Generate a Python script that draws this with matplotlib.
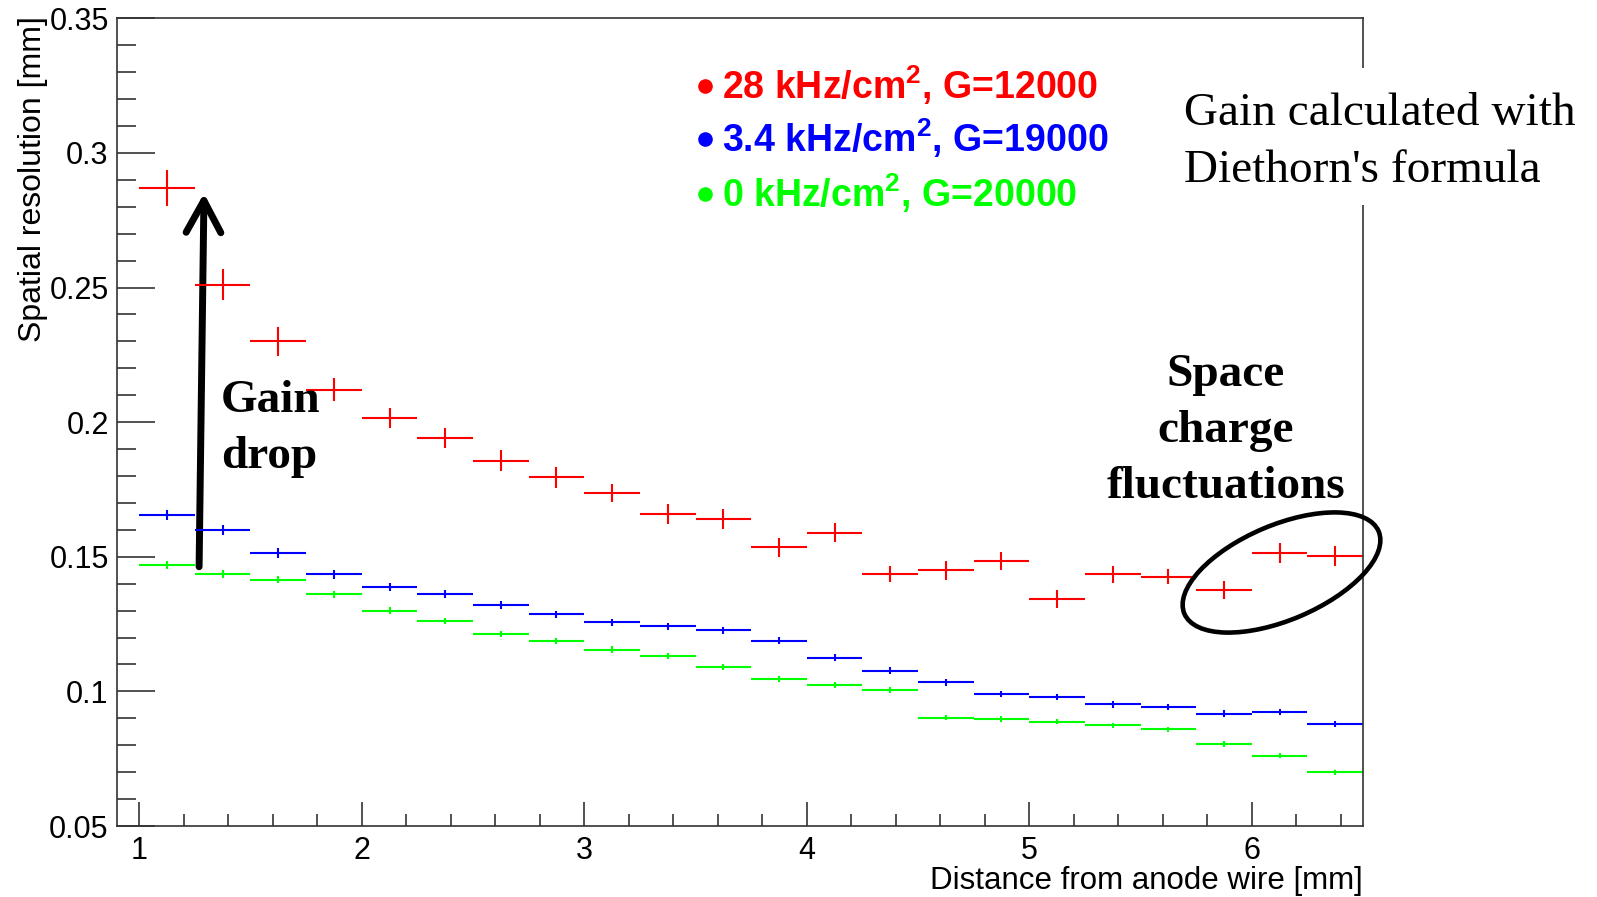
import numpy as np
import matplotlib.pyplot as plt
from matplotlib.patches import Ellipse, Rectangle, FancyArrowPatch
from matplotlib.ticker import MultipleLocator, FuncFormatter

plt.rcParams['font.family'] = ['Liberation Sans', 'DejaVu Sans']
plt.rcParams['mathtext.fontset'] = 'custom'
plt.rcParams['mathtext.rm'] = 'Liberation Sans'
plt.rcParams['mathtext.bf'] = 'Liberation Sans:bold'

# distance bins [mm]
bin_start = 1.0
bin_width = 0.25
n_bins = 22

# spatial resolution per bin [mm]
res_28khz = [0.287, 0.251, 0.230, 0.212, 0.2015, 0.194, 0.1857, 0.1795, 0.1737, 0.1659, 0.164,
             0.1535, 0.159, 0.1436, 0.145, 0.1484, 0.1343, 0.1435, 0.1426, 0.1377, 0.1514, 0.1503]
err_28khz = [0.0067, 0.0058, 0.0054, 0.0043, 0.0038, 0.0037, 0.0039, 0.0039, 0.0035, 0.0037, 0.0037,
             0.0035, 0.0035, 0.0030, 0.0035, 0.0034, 0.0032, 0.0032, 0.0028, 0.0033, 0.0036, 0.0038]

res_3khz = [0.1655, 0.160, 0.1514, 0.1435, 0.1387, 0.1363, 0.132, 0.1286, 0.1256, 0.1241, 0.1227,
            0.1188, 0.1125, 0.1077, 0.1033, 0.099, 0.098, 0.0952, 0.0942, 0.0917, 0.0923, 0.0879]
err_3khz = [0.0020, 0.0018, 0.0017, 0.0016, 0.0016, 0.0015, 0.0015, 0.0014, 0.0014, 0.0014, 0.0013,
            0.0013, 0.0013, 0.0013, 0.0012, 0.0012, 0.0012, 0.0012, 0.0012, 0.0012, 0.0012, 0.0012]

res_0khz = [0.1468, 0.1435, 0.1415, 0.1361, 0.1299, 0.1261, 0.1213, 0.1188, 0.1155, 0.113, 0.109,
            0.1047, 0.1023, 0.1005, 0.0902, 0.0897, 0.0887, 0.0874, 0.0859, 0.0805, 0.0761, 0.0699]
err_0khz = [0.0015, 0.0014, 0.0014, 0.0013, 0.0013, 0.0012, 0.0012, 0.0012, 0.0012, 0.0011, 0.0011,
            0.0011, 0.0011, 0.0011, 0.0010, 0.0010, 0.0010, 0.0010, 0.0010, 0.0010, 0.0010, 0.0010]

labels = [r'28 kHz/cm$^{\mathbf{2}}$, G=12000',
          r'3.4 kHz/cm$^{\mathbf{2}}$, G=19000',
          r'0 kHz/cm$^{\mathbf{2}}$, G=20000']
colors = ['#ff0000', '#0000ff', '#00ff00']

centres = bin_start + bin_width * (np.arange(n_bins) + 0.5)

W, H = 1597, 897
fig = plt.figure(figsize=(W / 100, H / 100), dpi=100)
ax = fig.add_axes([117 / W, 71 / H, 1246 / W, 807.7 / H])

for vals, errs, col in zip([res_28khz, res_3khz, res_0khz],
                           [err_28khz, err_3khz, err_0khz], colors):
    ax.errorbar(centres, vals, xerr=bin_width / 2, yerr=errs, fmt='none',
                ecolor=col, elinewidth=1.5, capsize=0)

ax.set_xlim(0.9, 6.5)
ax.set_ylim(0.05, 0.35)
ax.xaxis.set_major_locator(MultipleLocator(1))
ax.xaxis.set_minor_locator(MultipleLocator(0.2))
ax.yaxis.set_major_locator(MultipleLocator(0.05))
ax.yaxis.set_minor_locator(MultipleLocator(0.01))
ax.yaxis.set_major_formatter(FuncFormatter(lambda v, p: f'{v:g}'))

ax.tick_params(which='both', direction='in', top=False, right=False, width=1.1,
               labelsize=22, color='#222222')
ax.tick_params(axis='y', which='major', length=27.5, pad=6)
ax.tick_params(axis='y', which='minor', length=13.7)
ax.tick_params(axis='x', which='major', length=17.5, pad=7.5)
ax.tick_params(axis='x', which='minor', length=8.8)
for sp in ax.spines.values():
    sp.set_linewidth(1.2)
    sp.set_color('#333333')

fig.text(1363 / W, 1 - 889 / H, 'Distance from anode wire [mm]', fontsize=22.5,
         ha='right', va='baseline')
fig.text(41.5 / W, 1 - 16 / H, 'Spatial resolution [mm]', fontsize=23, rotation=90,
         rotation_mode='anchor', ha='right', va='baseline')

# legend rows: bullet + coloured bold label
legend_base = [0.3199, 0.3004, 0.2800]
for yb, lab, col in zip(legend_base, labels, colors):
    ax.plot([3.541], [yb + 0.0049], 'o', color=col, ms=9.5, clip_on=False)
    ax.text(3.617, yb, lab, color=col, fontsize=27, fontweight='bold',
            ha='left', va='baseline')

serif = ['Liberation Serif', 'DejaVu Serif']

# gain drop arrow
arrow = FancyArrowPatch((1.269, 0.1463), (1.291, 0.2850),
                        arrowstyle='->,head_length=23,head_width=12.5', mutation_scale=1,
                        lw=5, color='black', shrinkA=0, shrinkB=0,
                        capstyle='round', joinstyle='round')
ax.add_patch(arrow)
ax.text(1.366, 0.2039, 'Gain', family=serif, fontsize=34, fontweight='bold', va='baseline')
ax.text(1.366, 0.1828, 'drop', family=serif, fontsize=34, fontweight='bold', va='baseline')

for txt, yb in zip(['Space', 'charge', 'fluctuations'], [0.2135, 0.1927, 0.1717]):
    ax.text(5.884, yb, txt, family=serif, fontsize=34, fontweight='bold',
            ha='center', va='baseline')

ring = Ellipse((12.815, (H - 572.5) / 100), 2.11, 0.95, angle=23,
               transform=fig.dpi_scale_trans, fill=False, lw=3.3, ec='black')
fig.add_artist(ring)

# note on the right, on a white patch cutting the frame
fig.add_artist(Rectangle((1340 / W, 1 - 205 / H), (W - 1340) / W, 137 / H,
                         transform=fig.transFigure, fc='white', ec='none', zorder=5))
for txt, yb in zip(['Gain calculated with', "Diethorn's formula"], [125, 181.7]):
    fig.text(1184 / W, 1 - yb / H, txt, family=serif, fontsize=34, va='baseline',
             zorder=6)

fig.savefig('out.png', dpi=100)
